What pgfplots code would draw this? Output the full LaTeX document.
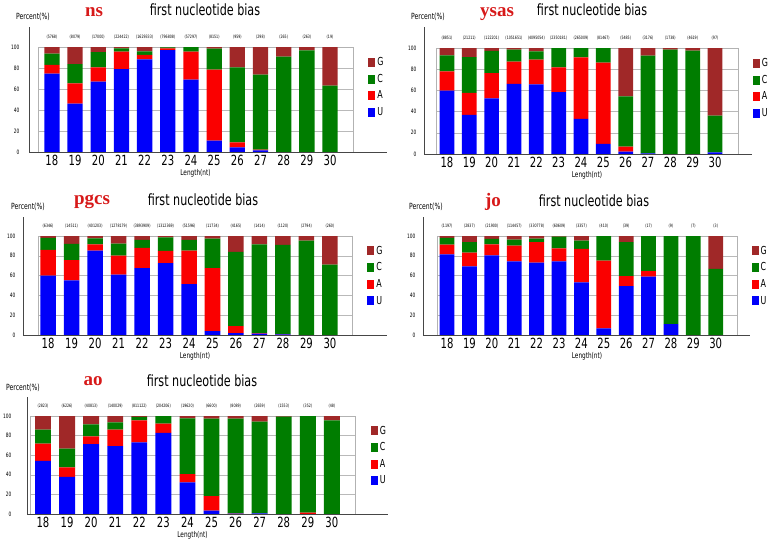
\documentclass[border=0pt]{standalone}
\usepackage{fontspec}
\usepackage{pgfplots}
\usepackage{pgfplotstable}
\pgfplotsset{compat=1.18}
\setmainfont{DejaVu Sans}[FakeStretch=0.72]
\newfontfamily\serifttl{Liberation Serif}

\definecolor{cU}{RGB}{0,0,250}
\definecolor{cA}{RGB}{250,0,0}
\definecolor{cC}{RGB}{0,125,0}
\definecolor{cG}{RGB}{160,40,40}
\definecolor{titred}{RGB}{215,25,25}
\definecolor{axdark}{RGB}{70,70,70}

% segment heights (percent) per read length, N = read count
\pgfplotstableread{
L U A C G N
18 74.6 8.3 10.8 6.3 (5768)
19 46.0 19.4 18.4 16.2 (8079)
20 67.0 13.6 14.6 4.8 (17000)
21 79.0 16.6 3.1 1.3 (224422)
22 88.3 4.1 3.5 4.1 (1629333)
23 97.1 1.6 1.0 0.3 (796808)
24 68.9 26.7 4.4 0 (57297)
25 10.8 67.6 20.0 1.6 (8151)
26 4.4 4.8 71.4 19.4 (959)
27 1.6 0.6 71.5 26.3 (298)
28 0 0 90.8 9.2 (265)
29 0 0 96.8 3.2 (263)
30 0 0 63.2 36.8 (19)
}\ns

\pgfplotstableread{
L U A C G N
18 59.9 18.0 15.2 6.9 (8851)
19 36.9 20.8 33.8 8.5 (21211)
20 52.4 24.0 20.8 2.8 (122201)
21 66.2 20.9 11.3 1.6 (1051651)
22 65.6 23.4 7.8 3.2 (4095054)
23 58.4 23.3 18.3 0 (2350181)
24 33.1 58.1 8.8 0 (265009)
25 9.5 76.6 13.9 0 (81467)
26 2.2 4.7 47.4 45.7 (5485)
27 0.6 0 92.1 7.3 (3176)
28 0 0 98.4 1.6 (1738)
29 0 0 97.5 2.5 (4619)
30 1.6 0 34.7 63.7 (97)
}\ysas

\pgfplotstableread{
L U A C G N
18 59.9 26.1 12.0 2.0 (6346)
19 55.2 20.4 16.4 8.0 (14511)
20 85.3 6.3 6.1 2.3 (401203)
21 60.9 19.4 12.0 7.7 (1278179)
22 67.6 20.4 8.0 4.0 (3893909)
23 72.6 12.3 13.8 1.3 (1312369)
24 51.5 33.8 10.7 4.0 (51596)
25 4.0 63.6 29.7 2.7 (11734)
26 2.0 7.0 74.9 16.1 (4165)
27 1.3 0.7 89.6 8.4 (1414)
28 0.7 0.3 90.0 9.0 (1120)
29 0 0 95.3 4.7 (2794)
30 0 0 71.2 28.8 (260)
}\pgcs

\pgfplotstableread{
L U A C G N
18 81.5 9.7 6.8 2.0 (1197)
19 69.4 13.8 10.7 6.1 (2837)
20 80.5 11.1 5.4 3.0 (21900)
21 74.4 15.8 6.1 3.7 (114457)
22 73.1 20.8 3.4 2.7 (330778)
23 74.4 13.1 11.8 0.7 (60609)
24 53.2 33.7 8.4 4.7 (3357)
25 6.7 68.4 24.9 0 (410)
26 49.5 10.1 34.3 6.1 (39)
27 58.9 5.7 35.4 0 (17)
28 11.1 0 88.9 0 (9)
29 0 0 100 0 (7)
30 0 0 66.7 33.3 (3)
}\jo

\pgfplotstableread{
L U A C G N
18 54.2 17.7 14.2 13.9 (2823)
19 38.0 9.5 19.3 33.2 (6226)
20 71.2 8.1 12.2 8.5 (40813)
21 69.2 16.9 7.5 6.4 (140029)
22 73.2 22.4 3.4 1.0 (811122)
23 82.7 9.5 7.8 0 (204206)
24 32.2 8.5 56.9 2.4 (19620)
25 3.4 14.9 79.0 2.7 (6600)
26 0.3 0.4 96.6 2.7 (8089)
27 0.7 0 93.5 5.8 (2659)
28 0 0 99.3 0.7 (1553)
29 0 1.4 98.6 0 (352)
30 0 0 95.6 4.4 (48)
}\ao

\pgfplotsset{
  nb/.style={
    ybar stacked, bar width=0.66, scale only axis, anchor=south west,
    ymin=0, ymax=100, ytick={0,20,...,100}, xtick={18,...,30},
    axis line style={gray!60, line width=0.7pt},
    ymajorgrids, grid style={gray!55, line width=0.6pt},
    major tick length=0pt,
    tick label style={/pgf/number format/assume math mode=true},
    xticklabel style={font=\fontsize{14}{14}\selectfont},
    yticklabel style={font=\fontsize{6}{7}\selectfont},
    xlabel={Length(nt)}, xlabel style={font=\fontsize{8}{8}\selectfont, yshift=4pt},
    clip=false, reverse legend,
    legend style={at={(1.045,0.93)}, anchor=north west, draw=none, fill=none,
      font=\fontsize{11}{11}\selectfont, row sep=3pt, inner sep=1pt},
    legend cell align=left,
    legend image code/.code={\fill[#1] (0pt,-4.5pt) rectangle (7pt,4.5pt);},
  },
  % overlay axis that only carries the read counts above the bars
  cnt/.style={scale only axis, anchor=south west, hide axis, clip=false,
    ymin=0, ymax=100},
}

\newcommand{\bars}[1]{%
  \addplot[fill=cU, draw=none] table[x=L, y=U] {#1};
  \addlegendentry{U}
  \addplot[fill=cA, draw=none] table[x=L, y=A] {#1};
  \addlegendentry{A}
  \addplot[fill=cC, draw=none] table[x=L, y=C] {#1};
  \addlegendentry{C}
  \addplot[fill=cG, draw=none] table[x=L, y=G] {#1};
  \addlegendentry{G}
}
\newcommand{\counts}[1]{%
  \addplot[draw=none, mark=none, nodes near coords, point meta=explicit symbolic,
    every node near coord/.append style={font=\fontsize{4.5}{5}\selectfont,
      text=black, anchor=south, yshift=4.5pt}]
    table[x=L, y expr=100, meta=N] {#1};
}

\begin{document}
\begin{tikzpicture}
\path[use as bounding box] (0,0) rectangle (778pt,-544pt);

% ns
\begin{axis}[nb, at={(38pt,-152pt)}, width=315pt, height=105pt,
  xmin=17.40, xmax=30.99, yticklabel style={xshift=-15pt}]
\bars{\ns}
\end{axis}
\begin{axis}[cnt, at={(38pt,-152pt)}, width=315pt, height=105pt, xmin=17.40, xmax=30.99]
\counts{\ns}
\end{axis}
\draw[axdark, line width=0.9pt] (29pt,-27pt) -- (29pt,-152pt) -- (387pt,-152pt);
\node[font=\serifttl\bfseries\fontsize{19}{19}\selectfont, text=titred] at (94pt,-12pt) {ns};
\node[font=\fontsize{15.5}{16}\selectfont] at (205pt,-10pt) {first nucleotide bias};
\node[font=\fontsize{8.5}{9}\selectfont] at (33pt,-17pt) {Percent(\%)};

% ysas
\begin{axis}[nb, at={(436pt,-154pt)}, width=302pt, height=106pt,
  xmin=17.51, xmax=31.03, yticklabel style={xshift=-16pt}]
\bars{\ysas}
\end{axis}
\begin{axis}[cnt, at={(436pt,-154pt)}, width=302pt, height=106pt, xmin=17.51, xmax=31.03]
\counts{\ysas}
\end{axis}
\draw[axdark, line width=0.9pt] (424pt,-27pt) -- (424pt,-154pt) -- (752pt,-154pt);
\node[font=\serifttl\bfseries\fontsize{19}{19}\selectfont, text=titred] at (497pt,-14pt) {ysas};
\node[font=\fontsize{15.5}{16}\selectfont] at (592pt,-10pt) {first nucleotide bias};
\node[font=\fontsize{8.5}{9}\selectfont] at (428pt,-17pt) {Percent(\%)};

% pgcs
\begin{axis}[nb, at={(38pt,-335pt)}, width=314pt, height=99pt,
  xmin=17.57, xmax=30.94, yticklabel style={xshift=-19pt}]
\bars{\pgcs}
\end{axis}
\begin{axis}[cnt, at={(38pt,-335pt)}, width=314pt, height=99pt, xmin=17.57, xmax=30.94]
\counts{\pgcs}
\end{axis}
\draw[axdark, line width=0.9pt] (23pt,-217pt) -- (23pt,-335pt) -- (387pt,-335pt);
\node[font=\serifttl\bfseries\fontsize{19}{19}\selectfont, text=titred] at (92pt,-202pt) {pgcs};
\node[font=\fontsize{15.5}{16}\selectfont] at (203pt,-200pt) {first nucleotide bias};
\node[font=\fontsize{8.5}{9}\selectfont] at (28pt,-207pt) {Percent(\%)};

% jo
\begin{axis}[nb, at={(437pt,-335pt)}, width=300pt, height=99pt,
  xmin=17.55, xmax=30.95, yticklabel style={xshift=-18pt}]
\bars{\jo}
\end{axis}
\begin{axis}[cnt, at={(437pt,-335pt)}, width=300pt, height=99pt, xmin=17.55, xmax=30.95]
\counts{\jo}
\end{axis}
\draw[axdark, line width=0.9pt] (423pt,-217pt) -- (423pt,-335pt) -- (750pt,-335pt);
\node[font=\serifttl\bfseries\fontsize{19}{19}\selectfont, text=titred] at (493pt,-202pt) {jo};
\node[font=\fontsize{15.5}{16}\selectfont] at (594pt,-201pt) {first nucleotide bias};
\node[font=\fontsize{8.5}{9}\selectfont] at (426pt,-207pt) {Percent(\%)};

% ao
\begin{axis}[nb, at={(30pt,-514pt)}, width=325pt, height=98pt,
  xmin=17.46, xmax=30.96, yticklabel style={xshift=-15pt}]
\bars{\ao}
\end{axis}
\begin{axis}[cnt, at={(30pt,-514pt)}, width=325pt, height=98pt, xmin=17.46, xmax=30.96]
\counts{\ao}
\end{axis}
\draw[axdark, line width=0.9pt] (27pt,-397pt) -- (27pt,-514pt) -- (388pt,-514pt);
\node[font=\serifttl\bfseries\fontsize{19}{19}\selectfont, text=titred] at (93pt,-381pt) {ao};
\node[font=\fontsize{15.5}{16}\selectfont] at (202pt,-381pt) {first nucleotide bias};
\node[font=\fontsize{8.5}{9}\selectfont] at (23pt,-388pt) {Percent(\%)};
\end{tikzpicture}
\end{document}
